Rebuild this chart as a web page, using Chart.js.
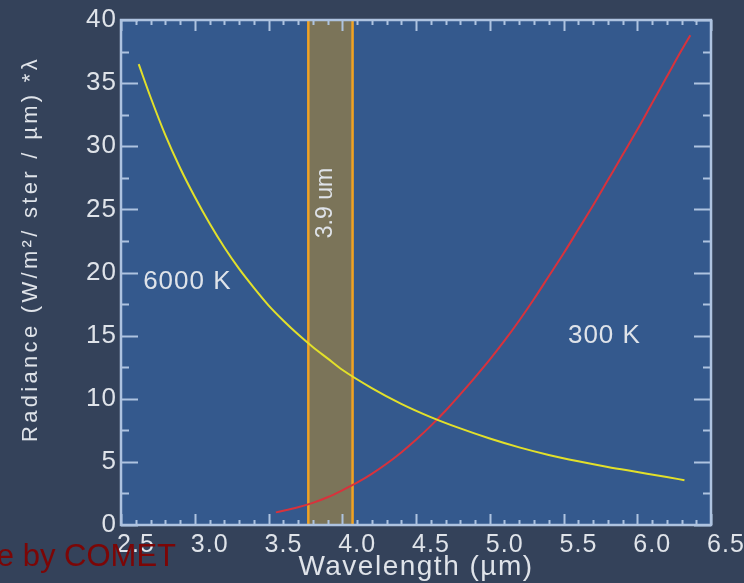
<!DOCTYPE html>
<html><head><meta charset="utf-8">
<script src="https://cdn.jsdelivr.net/npm/chart.js@4.4.1/dist/chart.umd.min.js"></script>
<style>html,body{margin:0;padding:0;background:#34425a;overflow:hidden}#wrap{width:744px;height:583px;position:relative}</style>
</head><body><div id="wrap"><canvas id="c" width="744" height="583"></canvas></div>
<script>
// ---- data ----
const wavelength6000 = [2.62, 2.7, 2.8, 2.9, 3.0, 3.1, 3.2, 3.3, 3.4, 3.5, 3.6, 3.7, 3.8, 3.9, 4.0, 4.2, 4.4, 4.6, 4.8, 5.0, 5.2, 5.4, 5.6, 5.8, 6.0, 6.2, 6.32];
const radiance6000   = [36.5, 33.9, 30.9, 28.3, 26.0, 23.9, 22.0, 20.3, 18.8, 17.4, 16.2, 15.1, 14.1, 13.2, 12.3, 10.85, 9.6, 8.55, 7.65, 6.85, 6.15, 5.55, 5.05, 4.6, 4.2, 3.8, 3.55];
const wavelength300  = [3.55, 3.7, 3.8, 3.9, 4.0, 4.1, 4.2, 4.3, 4.4, 4.5, 4.6, 4.7, 4.8, 4.9, 5.0, 5.1, 5.2, 5.3, 5.4, 5.5, 5.6, 5.7, 5.8, 5.9, 6.0, 6.1, 6.2, 6.3, 6.36];
const radiance300    = [1.0, 1.4, 1.75, 2.2, 2.75, 3.35, 4.05, 4.85, 5.75, 6.75, 7.85, 9.05, 10.35, 11.7, 13.1, 14.6, 16.2, 17.9, 19.7, 21.5, 23.4, 25.3, 27.3, 29.3, 31.3, 33.4, 35.5, 37.6, 38.8];
const xTickValues = [2.5, 3.0, 3.5, 4.0, 4.5, 5.0, 5.5, 6.0, 6.5];
const yTickValues = [0, 5, 10, 15, 20, 25, 30, 35, 40];
const bandRange = [3.77, 4.07];
const seriesLabels = ['6000 K', '300 K'];
const bandLabel = '3.9 um';
const creditText = 'e by COMET';
const xTitle = 'Wavelength (µm)';
const yTitle = '\u00a0\u00a0\u00a0\u00a0\u00a0Radiance (W/m²/ ster / µm) *λ';

// ---- styles ----
const FONT = "'Liberation Sans', Arial, sans-serif";
const TXT = '#dfe3e9';
const FRAME = '#aec3e0';
const OUTER = '#34425a';
const PLOT = '#34598d';

function patchTitle(scale, spacing) {
  if (!scale || scale.__patched) return;
  const orig = scale.drawTitle.bind(scale);
  scale.drawTitle = function () {
    const ctx = this.ctx;
    const prev = ctx.letterSpacing;
    ctx.letterSpacing = spacing;
    orig();
    ctx.letterSpacing = prev;
  };
  scale.__patched = true;
}

const spacing = {
  id: 'spacing',
  beforeLayout(chart) { chart.ctx.letterSpacing = '1px'; },
  afterLayout(chart) {
    patchTitle(chart.scales.x, '1.5px');
    patchTitle(chart.scales.y, '3.3px');
  },
  beforeDraw(chart) {
    const ctx = chart.ctx, a = chart.chartArea;
    ctx.letterSpacing = '1px';
    ctx.save();
    ctx.fillStyle = OUTER;
    ctx.fillRect(0, 0, chart.width, chart.height);
    ctx.fillStyle = PLOT;
    ctx.fillRect(a.left, a.top, a.right - a.left, a.bottom - a.top);
    ctx.restore();
  }
};

const decor = {
  id: 'decor',
  beforeDatasetsDraw(chart) {
    const ctx = chart.ctx, a = chart.chartArea, xs = chart.scales.x;
    const x0 = xs.getPixelForValue(bandRange[0]), x1 = xs.getPixelForValue(bandRange[1]);
    ctx.save();
    ctx.fillStyle = '#7b7459';
    ctx.fillRect(x0, a.top, x1 - x0, a.bottom - a.top);
    ctx.strokeStyle = '#f0a224';
    ctx.lineWidth = 2.5;
    ctx.beginPath();
    ctx.moveTo(x0, a.top); ctx.lineTo(x0, a.bottom);
    ctx.moveTo(x1, a.top); ctx.lineTo(x1, a.bottom);
    ctx.stroke();
    ctx.restore();
  },
  afterDatasetsDraw(chart) {
    const ctx = chart.ctx, a = chart.chartArea, xs = chart.scales.x, ys = chart.scales.y;
    ctx.save();
    ctx.strokeStyle = FRAME;
    ctx.lineWidth = 2;
    ctx.beginPath();
    for (let i = 0; i < xTickValues.length; i++) {
      const v = xTickValues[i], px = Math.round(xs.getPixelForValue(v)) + 0.5;
      ctx.moveTo(px, a.bottom); ctx.lineTo(px, a.bottom - 11);
      ctx.moveTo(px, a.top); ctx.lineTo(px, a.top + 11);
      if (i < xTickValues.length - 1) {
        const step = (xTickValues[i + 1] - v) / 5;
        for (let k = 1; k < 5; k++) {
          const mx = Math.round(xs.getPixelForValue(v + k * step)) + 0.5;
          ctx.moveTo(mx, a.bottom); ctx.lineTo(mx, a.bottom - 5);
          ctx.moveTo(mx, a.top); ctx.lineTo(mx, a.top + 5);
        }
      }
    }
    for (let i = 0; i < yTickValues.length; i++) {
      const v = yTickValues[i], py = Math.round(ys.getPixelForValue(v)) + 0.5;
      ctx.moveTo(a.left, py); ctx.lineTo(a.left + 17, py);
      ctx.moveTo(a.right, py); ctx.lineTo(a.right - 17, py);
      if (i < yTickValues.length - 1) {
        const my = Math.round(ys.getPixelForValue(v + (yTickValues[i + 1] - v) / 2)) + 0.5;
        ctx.moveTo(a.left, my); ctx.lineTo(a.left + 8, my);
        ctx.moveTo(a.right, my); ctx.lineTo(a.right - 8, my);
      }
    }
    ctx.stroke();
    ctx.lineWidth = 2.5;
    ctx.strokeRect(a.left, a.top, a.right - a.left, a.bottom - a.top);

    ctx.fillStyle = TXT;
    ctx.font = '26px ' + FONT;
    ctx.letterSpacing = '1px';
    ctx.textBaseline = 'middle';
    ctx.textAlign = 'left';
    ctx.fillText(seriesLabels[0], xs.getPixelForValue(2.65), ys.getPixelForValue(19.25));
    ctx.fillText(seriesLabels[1], xs.getPixelForValue(5.53), ys.getPixelForValue(14.95));
    ctx.save();
    ctx.translate(xs.getPixelForValue((bandRange[0] + bandRange[1]) / 2) - 5, ys.getPixelForValue(25.5));
    ctx.rotate(-Math.PI / 2);
    ctx.textAlign = 'center';
    ctx.font = '23px ' + FONT;
    ctx.letterSpacing = '0px';
    ctx.fillText(bandLabel, 0, 0);
    ctx.restore();
    ctx.restore();
  },
  afterDraw(chart) {
    const ctx = chart.ctx;
    ctx.save();
    ctx.letterSpacing = '0px';
    ctx.font = '31px ' + FONT;
    ctx.fillStyle = '#7c0606';
    ctx.textAlign = 'right';
    ctx.textBaseline = 'alphabetic';
    ctx.fillText(creditText, 176, 566);
    ctx.restore();
  }
};

const toPts = (xs, ys) => xs.map((x, i) => ({ x, y: ys[i] }));

new Chart(document.getElementById('c'), {
  type: 'scatter',
  data: {
    datasets: [
      { label: seriesLabels[0], data: toPts(wavelength6000, radiance6000), showLine: true,
        borderColor: '#e2e02a', borderWidth: 2, pointRadius: 0, cubicInterpolationMode: 'monotone', fill: false },
      { label: seriesLabels[1], data: toPts(wavelength300, radiance300), showLine: true,
        borderColor: '#d8323c', borderWidth: 2, pointRadius: 0, cubicInterpolationMode: 'monotone', fill: false }
    ]
  },
  options: {
    responsive: false,
    animation: false,
    devicePixelRatio: 1,
    layout: { padding: { top: 20, right: 33, left: 0, bottom: 0 } },
    plugins: { legend: { display: false }, tooltip: { enabled: false } },
    scales: {
      x: {
        type: 'linear', min: 2.5, max: 6.5,
        afterBuildTicks: s => { s.ticks = xTickValues.map(v => ({ value: v })); },
        afterFit: s => { s.height = 58; },
        grid: { display: false, drawTicks: false }, border: { display: false },
        ticks: { color: TXT, font: { family: FONT, size: 25 }, padding: 5, labelOffset: 15,
          maxRotation: 0, autoSkip: false, callback: v => Number(v).toFixed(1) },
        title: { display: true, text: xTitle, color: TXT, font: { family: FONT, size: 28, lineHeight: 1.1 }, padding: { top: 0, bottom: 0 } }
      },
      y: {
        type: 'linear', min: 0, max: 40,
        afterBuildTicks: s => { s.ticks = yTickValues.map(v => ({ value: v })); },
        afterFit: s => { s.width = 121; },
        grid: { display: false, drawTicks: false }, border: { display: false },
        ticks: { color: TXT, font: { family: FONT, size: 26 }, padding: 4, autoSkip: false,
          callback: v => String(v) },
        title: { display: true, text: yTitle, color: TXT, font: { family: FONT, size: 22 }, padding: { top: 18, bottom: 0 } }
      }
    }
  },
  plugins: [spacing, decor]
});
</script>
</body></html>
